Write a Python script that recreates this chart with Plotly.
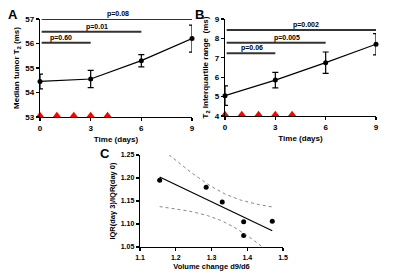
import numpy as np
import plotly.graph_objects as go

# ---------------- data ----------------
days = [0, 3, 6, 9]
median_t2 = [54.45, 54.55, 55.30, 56.20]
median_t2_err_up = [0.30, 0.35, 0.25, 0.55]
median_t2_err_dn = [0.30, 0.35, 0.25, 0.55]

iqr_t2 = [5.05, 5.85, 6.75, 7.70]
iqr_t2_err_up = [0.50, 0.40, 0.55, 0.55]
iqr_t2_err_dn = [0.50, 0.40, 0.55, 0.55]

treatment_days = [0, 1, 2, 3, 4]

sig_A_end = [3, 6, 9]
sig_A_y = [56.03, 56.48, 57.0]
sig_A_text = ["p=0.60", "p=0.01", "p=0.08"]
sig_A_textx = [1.25, 3.4, 4.6]

sig_B_end = [3, 6, 9]
sig_B_y = [7.23, 7.78, 8.43]
sig_B_text = ["p=0.06", "p=0.005", "p=0.002"]
sig_B_textx = [1.6, 3.7, 4.8]

vol_change = [1.155, 1.285, 1.33, 1.39, 1.39, 1.47]
iqr_ratio = [1.195, 1.180, 1.148, 1.105, 1.075, 1.106]
corr_text = "r=-0.81<br>p=0.03"

# ---------------- regression + 95% CI ----------------
xv = np.array(vol_change)
yv = np.array(iqr_ratio)
n = len(xv)
slope, intercept = np.polyfit(xv, yv, 1)
resid = yv - (slope * xv + intercept)
s = np.sqrt(np.sum(resid ** 2) / (n - 2))
sxx = np.sum((xv - xv.mean()) ** 2)
t_crit = 2.776
xfit = np.linspace(xv.min(), xv.max(), 60)
yfit = slope * xfit + intercept
se = s * np.sqrt(1 / n + (xfit - xv.mean()) ** 2 / sxx)
ci_up = yfit + t_crit * se
ci_dn = yfit - t_crit * se

FONT = "Liberation Sans, Arial, sans-serif"
W, H = 400, 277

def px_x(a, b):
    return [a / W, b / W]

def px_y(top, bottom):
    return [(H - bottom) / H, (H - top) / H]

def bfont(size, color="black"):
    return dict(family=FONT, size=size, color=color, weight="bold")

fig = go.Figure()

# Panel A
fig.add_trace(go.Scatter(
    x=days, y=median_t2, mode="lines+markers",
    line=dict(color="black", width=1.2),
    marker=dict(color="black", size=5),
    error_y=dict(type="data", array=median_t2_err_up, arrayminus=median_t2_err_dn,
                 color="black", thickness=1.2, width=3),
    xaxis="x", yaxis="y", cliponaxis=False, showlegend=False))

# Panel B
fig.add_trace(go.Scatter(
    x=days, y=iqr_t2, mode="lines+markers",
    line=dict(color="black", width=1.2),
    marker=dict(color="black", size=5),
    error_y=dict(type="data", array=iqr_t2_err_up, arrayminus=iqr_t2_err_dn,
                 color="black", thickness=1.2, width=3),
    xaxis="x2", yaxis="y2", cliponaxis=False, showlegend=False))

# treatment arrows (triangle head + stem drawn as one-sided error bar)
for xa, ya, base, unit in [("x", "y", 53.0, 1.0), ("x2", "y2", 4.0, 1.25)]:
    fig.add_trace(go.Scatter(
        x=treatment_days, y=[base + 0.07 * unit] * len(treatment_days), mode="markers",
        marker=dict(symbol="triangle-up", color="red", size=7, line=dict(width=0)),
        error_y=dict(type="data", array=[0] * len(treatment_days),
                     arrayminus=[0.19 * unit] * len(treatment_days),
                     color="red", thickness=1.8, width=0),
        xaxis=xa, yaxis=ya, cliponaxis=False, showlegend=False))

# Panel C
fig.add_trace(go.Scatter(
    x=vol_change, y=iqr_ratio, mode="markers",
    marker=dict(color="black", size=5),
    xaxis="x3", yaxis="y3", cliponaxis=False, showlegend=False))
fig.add_trace(go.Scatter(
    x=xfit, y=yfit, mode="lines", line=dict(color="black", width=1.2),
    xaxis="x3", yaxis="y3", showlegend=False))
fig.add_trace(go.Scatter(
    x=xfit, y=ci_up, mode="lines", line=dict(color="#777", width=0.9, dash="dot"),
    xaxis="x3", yaxis="y3", showlegend=False))
fig.add_trace(go.Scatter(
    x=xfit, y=ci_dn, mode="lines", line=dict(color="#777", width=0.9, dash="dot"),
    xaxis="x3", yaxis="y3", showlegend=False))

common = dict(showline=True, linecolor="black", linewidth=1.3, ticks="outside",
              ticklen=3, tickwidth=1.2, tickcolor="black", showgrid=False,
              zeroline=False, automargin=False)

fig.update_layout(
    template="none",
    width=W, height=H, margin=dict(l=0, r=0, t=0, b=0),
    paper_bgcolor="white", plot_bgcolor="white",
    font=dict(family=FONT, color="black"),
    xaxis=dict(domain=px_x(40, 192), range=[0, 9], tickvals=days, anchor="y",
               tickfont=bfont(8),
               title=dict(text="Time (days)", font=bfont(8), standoff=4), **common),
    yaxis=dict(domain=px_y(19, 117), range=[53, 57], dtick=1, anchor="x",
               tickfont=bfont(8),
               title=dict(text="Median tumor T<sub>2</sub> (ms)", font=bfont(8), standoff=4),
               **common),
    xaxis2=dict(domain=px_x(225, 376), range=[0, 9], tickvals=days, anchor="y2",
                tickfont=bfont(8),
                title=dict(text="Time (days)", font=bfont(8), standoff=4), **common),
    yaxis2=dict(domain=px_y(19, 116), range=[4, 9], dtick=1, anchor="x2",
                tickfont=bfont(8),
                title=dict(text="T<sub>2</sub> Interquartile range  (ms)", font=bfont(8), standoff=4),
                **common),
    xaxis3=dict(domain=px_x(140, 283), range=[1.1, 1.5], dtick=0.1, tickformat=".1f", anchor="y3",
                tickfont=bfont(7),
                title=dict(text="Volume change d9/d6", font=bfont(7.5), standoff=4),
                **common),
    yaxis3=dict(domain=px_y(155, 247), range=[1.05, 1.25], dtick=0.05, tickformat=".2f", anchor="x3",
                tickfont=bfont(7),
                title=dict(text="IQR(day 3)/IQR(day 0)", font=bfont(7.5), standoff=4),
                **common),
)

shapes = []
annotations = []

# significance bars
for xref, yref, ends, ys, texts, txs in [
        ("x", "y", sig_A_end, sig_A_y, sig_A_text, sig_A_textx),
        ("x2", "y2", sig_B_end, sig_B_y, sig_B_text, sig_B_textx)]:
    for xe, yy, txt, tx in zip(ends, ys, texts, txs):
        shapes.append(dict(type="line", xref=xref, yref=yref, x0=0.1, x1=xe, y0=yy, y1=yy,
                           line=dict(color="#333333", width=2)))
        annotations.append(dict(xref=xref, yref=yref, x=tx, y=yy, text=txt,
                                showarrow=False, yanchor="bottom", yshift=-1,
                                font=bfont(7, "black")))

# correlation text
annotations.append(dict(xref="x3", yref="y3", x=1.357, y=1.252, text=corr_text,
                        showarrow=False, xanchor="left", yanchor="top", align="left",
                        font=bfont(7)))

# panel letters
for letter, x, y in [("A", 13, 14), ("B", 199, 14), ("C", 105, 153)]:
    annotations.append(dict(xref="paper", yref="paper", x=x / W, y=1 - y / H,
                            xanchor="center", yanchor="middle",
                            text=letter, showarrow=False, font=bfont(13)))

fig.update_layout(shapes=shapes, annotations=annotations)
fig.write_html("out.html", config={"displayModeBar": False, "staticPlot": True},
               post_script="document.body.style.margin='0px';")
